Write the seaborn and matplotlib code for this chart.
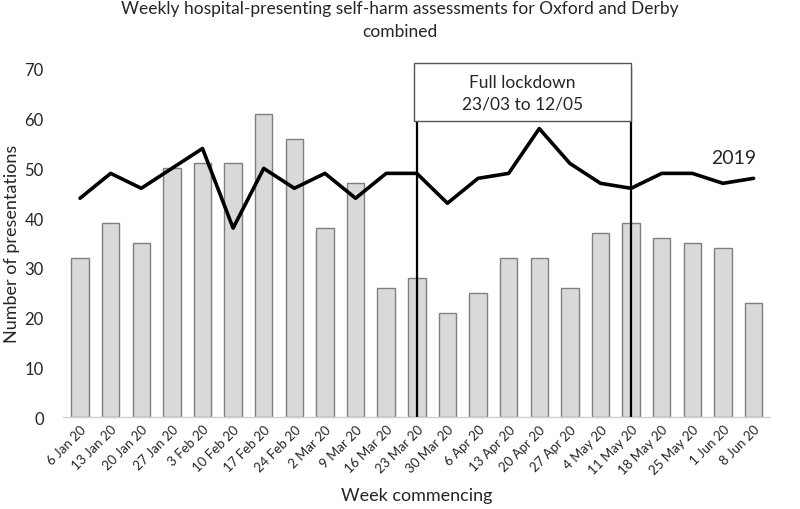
import matplotlib
matplotlib.use("Agg")
import matplotlib.pyplot as plt
import seaborn as sns
import pandas as pd
from matplotlib.patches import Rectangle

weeks = ["6 Jan 20", "13 Jan 20", "20 Jan 20", "27 Jan 20", "3 Feb 20", "10 Feb 20",
         "17 Feb 20", "24 Feb 20", "2 Mar 20", "9 Mar 20", "16 Mar 20", "23 Mar 20",
         "30 Mar 20", "6 Apr 20", "13 Apr 20", "20 Apr 20", "27 Apr 20", "4 May 20",
         "11 May 20", "18 May 20", "25 May 20", "1 Jun 20", "8 Jun 20"]
values_2020 = [32, 39, 35, 50, 51, 51, 61, 56, 38, 47, 26, 28, 21, 25, 32, 32, 26, 37,
               39, 36, 35, 34, 23]
values_2019 = [44, 49, 46, 50, 54, 38, 50, 46, 49, 44, 49, 49, 43, 48, 49, 58, 51, 47,
               46, 49, 49, 47, 48]
lockdown_start = "23 Mar 20"
lockdown_end = "11 May 20"

sns.set_theme(style="white")
plt.rcParams['font.family'] = ['Lato', 'DejaVu Sans']

df = pd.DataFrame({"week": weeks, "y2020": values_2020, "y2019": values_2019})
df["pos"] = range(len(df))

fig = plt.figure(figsize=(8, 5.1), dpi=100)
ax = fig.add_axes([0.079, 0.180, 0.884, 0.683])

sns.barplot(data=df, x="week", y="y2020", color="#d9d9d9", edgecolor="#7f7f7f",
            linewidth=1.0, width=0.57, saturation=1, ax=ax, zorder=2)
sns.lineplot(data=df, x="pos", y="y2019", color="black", linewidth=2.6, ax=ax,
             zorder=4, sort=False)

ax.set_ylim(0, 70)
ax.set_xlim(-0.55, len(weeks) - 0.45)
ax.set_yticks(range(0, 71, 10))
ax.tick_params(axis='y', labelsize=12, length=0, pad=14)
ax.tick_params(axis='x', labelsize=9.5, length=0, pad=4)
ax.set_xticks(range(len(weeks)))
ax.set_xticklabels(weeks, rotation=45, ha="right", rotation_mode="anchor")

for s in ["top", "right", "left"]:
    ax.spines[s].set_visible(False)
ax.spines["bottom"].set_color("#d0d0d0")
ax.spines["bottom"].set_linewidth(1.0)

i0 = weeks.index(lockdown_start)
i1 = weeks.index(lockdown_end)
ax.vlines([i0, i1], 0, 70, color="black", linewidth=1.6, zorder=5)
box = Rectangle((i0 - 0.08, 59.6), (i1 - i0) + 0.08, 11.6, facecolor="white",
                edgecolor="#555555", linewidth=1.0, zorder=6, clip_on=False)
ax.add_patch(box)
ax.text((i0 + i1) / 2 - 0.04, 65.2, "Full lockdown\n23/03 to 12/05", ha="center",
        va="center", fontsize=12.5, linespacing=1.45, zorder=7)

ax.text(20.6, 52.2, "2019", fontsize=14, ha="left", va="center", zorder=7)

ax.set_xlabel("Week commencing", fontsize=13, labelpad=8)
ax.set_ylabel("Number of presentations", fontsize=13, labelpad=3)
fig.suptitle("Weekly hospital-presenting self-harm assessments for Oxford and Derby\ncombined",
             fontsize=12.5, x=0.5, y=0.998, va="top", linespacing=1.5)

fig.savefig("out.png", dpi=100)
